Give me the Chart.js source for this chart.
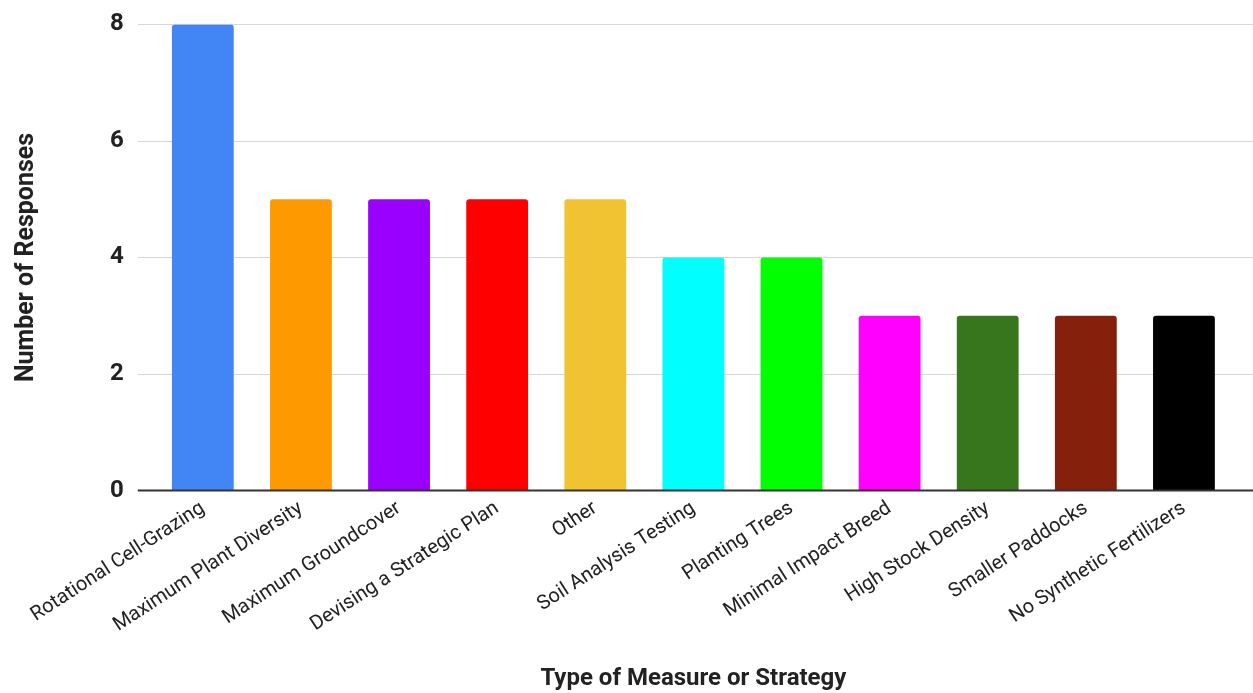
<!DOCTYPE html>
<html>
<head>
<meta charset="utf-8">
<script src="https://cdn.jsdelivr.net/npm/chart.js@4/dist/chart.umd.min.js"></script>
<style>
  html, body { margin: 0; padding: 0; background: #fff; }
  #wrap { width: 1253px; height: 693px; }
</style>
</head>
<body>
<div id="wrap"><canvas id="plot"></canvas></div>
<script>
// datos del grafico
const categorias = ['Rotational Cell-Grazing', 'Maximum Plant Diversity', 'Maximum Groundcover',
  'Devising a Strategic Plan', 'Other', 'Soil Analysis Testing', 'Planting Trees',
  'Minimal Impact Breed', 'High Stock Density', 'Smaller Paddocks', 'No Synthetic Fertilizers'];
const respuestas = [8, 5, 5, 5, 5, 4, 4, 3, 3, 3, 3];
const colores = ['#4285F4', '#FF9900', '#9900FF', '#FF0000', '#F1C232', '#00FFFF',
  '#00FF00', '#FF00FF', '#38761D', '#85200C', '#000000'];
const ticksY = [0, 2, 4, 6, 8];

// lineas de cuadricula que salen un poco del area del grafico
let gridLargo = {
  id: 'gridLargo',
  beforeDatasetsDraw(chart) {
    let ctx = chart.ctx;
    let y = chart.scales.y;
    let area = chart.chartArea;
    ctx.save();
    ctx.strokeStyle = '#d6d6d6';
    ctx.lineWidth = 1;
    ticksY.forEach(v => {
      if (v === 0) return;
      let py = Math.round(y.getPixelForValue(v)) + 0.5;
      ctx.beginPath();
      ctx.moveTo(area.left - 16, py);
      ctx.lineTo(area.right + 20, py);
      ctx.stroke();
    });
    ctx.restore();
  },
  afterDatasetsDraw(chart) {
    let ctx = chart.ctx;
    let area = chart.chartArea;
    let py = chart.scales.y.getPixelForValue(0);
    ctx.save();
    ctx.strokeStyle = '#333333';
    ctx.lineWidth = 2;
    ctx.beginPath();
    ctx.moveTo(area.left - 16, py);
    ctx.lineTo(area.right + 20, py);
    ctx.stroke();
    ctx.restore();
  }
};

let config = {
  type: 'bar',
  data: {
    labels: categorias,
    datasets: [{
      data: respuestas,
      backgroundColor: colores,
      borderRadius: { topLeft: 3, topRight: 3, bottomLeft: 0, bottomRight: 0 },
      borderSkipped: false,
      barPercentage: 0.63,
      categoryPercentage: 1
    }]
  },
  options: {
    responsive: true,
    maintainAspectRatio: false,
    animation: false,
    layout: { padding: { left: 12, right: 20, top: 0, bottom: 0 } },
    plugins: { legend: { display: false }, tooltip: { enabled: false } },
    scales: {
      x: {
        grid: { display: false, drawTicks: false },
        border: { display: false },
        ticks: {
          minRotation: 33, maxRotation: 33, autoSkip: false,
          color: '#222', padding: 6,
          font: { family: 'Roboto', size: 20 }
        },
        title: {
          display: true, text: 'Type of Measure or Strategy', color: '#222',
          font: { family: 'Roboto', size: 24, weight: 'bold' },
          padding: { top: 21, bottom: 0 }
        }
      },
      y: {
        min: 0, max: 8,
        afterBuildTicks: axis => { axis.ticks = ticksY.map(v => ({ value: v })); },
        // marcas invisibles para dejar espacio sin empujar el borde superior
        grid: { display: false, drawTicks: true, tickLength: 20, tickColor: 'rgba(0,0,0,0)' },
        border: { display: false },
        ticks: {
          color: '#222', padding: 10,
          font: { family: 'Roboto', size: 24, weight: 'bold' }
        },
        title: {
          display: true, text: 'Number of Responses', color: '#222',
          font: { family: 'Roboto', size: 25, weight: 'bold' },
          padding: { top: 0, bottom: 58 }
        }
      }
    }
  },
  plugins: [gridLargo]
};

let chart1 = new Chart(document.getElementById('plot'), config);
</script>
</body>
</html>
